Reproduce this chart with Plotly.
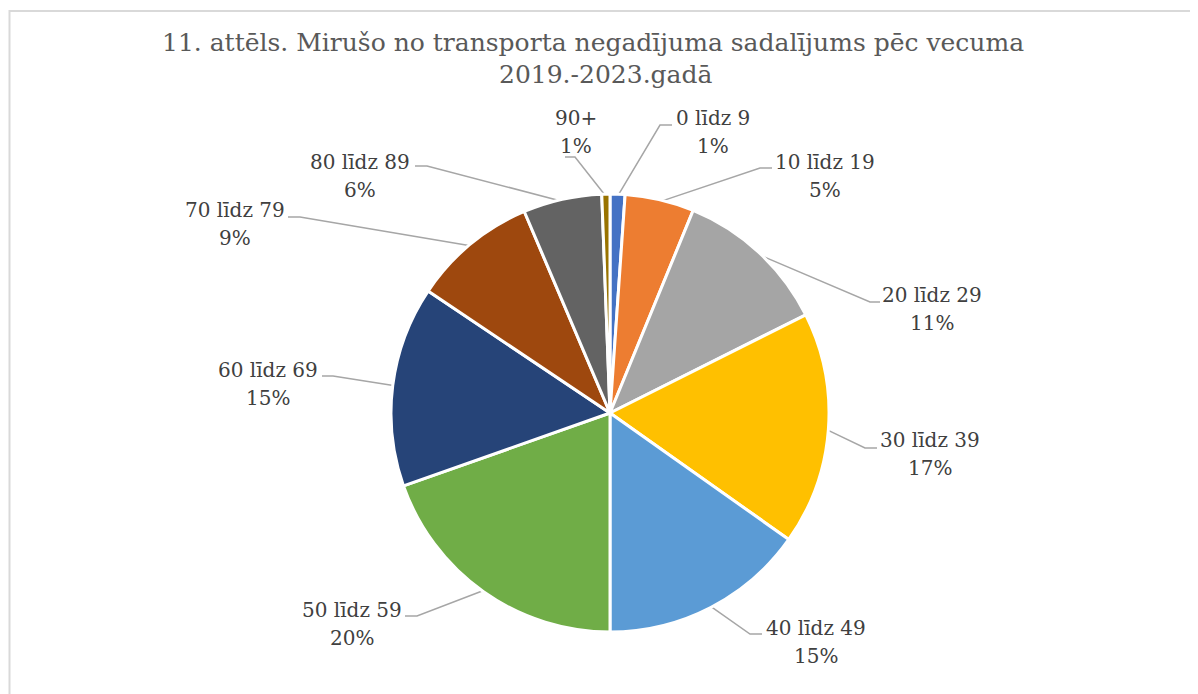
import math
import plotly.graph_objects as go

# ---- data ----
age_groups = ["0 līdz 9", "10 līdz 19", "20 līdz 29", "30 līdz 39", "40 līdz 49",
              "50 līdz 59", "60 līdz 69", "70 līdz 79", "80 līdz 89", "90+"]
shares = [1.1, 5.1, 11.4, 17.2, 15.2, 19.6, 14.8, 9.2, 5.8, 0.6]
colors = ["#4472C4", "#ED7D31", "#A5A5A5", "#FFC000", "#5B9BD5",
          "#70AD47", "#264478", "#9E480E", "#636363", "#997300"]
title_lines = ["11. attēls. Mirušo no transporta negadījuma sadalījums pēc vecuma",
               "2019.-2023.gadā"]

# ---- layout (page pixels) ----
W, H = 1198, 694
OFF = 8  # page body margin
CX, CY, R = 610, 413, 219
SERIF = "DejaVu Serif"
# label text centre (x, first line y)
label_pos = [(713, 118), (825, 162), (932, 295), (930, 440), (816, 628),
             (352, 610), (268, 370), (235, 210), (360, 162), (576, 118)]
# leader attach point near text and elbow point
leader_attach = [(672, 125), (772, 168), (880, 302), (877, 448), (762, 634),
                 (405, 616), (322, 376), (288, 217), (415, 166), (565, 157)]
leader_elbow = [(660, 125), (760, 168), (870, 302), (865, 448), (750, 634),
                (417, 616), (333, 376), (300, 217), (427, 166), (575, 157)]

total = sum(shares)
fig = go.Figure()

fig.add_trace(go.Pie(
    labels=age_groups, values=shares, sort=False, direction="clockwise",
    rotation=0, textinfo="none", hoverinfo="label+percent",
    marker=dict(colors=colors, line=dict(color="white", width=3)),
    domain=dict(x=[(CX - OFF - R) / W, (CX - OFF + R) / W],
                y=[(H - (CY - OFF) - R) / H, (H - (CY - OFF) + R) / H]),
    showlegend=False,
))

# leader lines: start at slice mid-angle on the pie edge (from data)
lx, ly = [], []
cum = 0.0
for i, v in enumerate(shares):
    mid = (cum + v / 2) / total * 2 * math.pi
    cum += v
    sx = CX + R * math.sin(mid) * 0.99
    sy = CY - R * math.cos(mid) * 0.99
    lx += [sx, leader_elbow[i][0], leader_attach[i][0], None]
    ly += [sy, leader_elbow[i][1], leader_attach[i][1], None]

fig.add_trace(go.Scatter(x=lx, y=ly, mode="lines", hoverinfo="skip",
                         line=dict(color="#A6A6A6", width=1.5), showlegend=False))

annotations = []
for i, name in enumerate(age_groups):
    pct = f"{round(shares[i] / total * 100)}%"
    x, y = label_pos[i]
    for j, t in enumerate([name, pct]):
        annotations.append(dict(
            x=x, y=y + j * 28, xref="x", yref="y", text=t, showarrow=False,
            xanchor="center", yanchor="middle",
            font=dict(family=SERIF, size=20, color="#404040")))

title_y = [42, 74]
title_x = [593, 605]
for j, t in enumerate(title_lines):
    annotations.append(dict(
        x=title_x[j], y=title_y[j], xref="x", yref="y", text=t, showarrow=False,
        xanchor="center", yanchor="middle",
        font=dict(family=SERIF, size=25, color="#595959")))

fig.update_layout(
    width=W, height=H, margin=dict(l=0, r=0, t=0, b=0),
    paper_bgcolor="white", plot_bgcolor="rgba(0,0,0,0)",
    xaxis=dict(range=[OFF, W + OFF], visible=False, domain=[0, 1], fixedrange=True),
    yaxis=dict(range=[H + OFF, OFF], visible=False, domain=[0, 1], fixedrange=True),
    annotations=annotations,
    shapes=[dict(type="rect", xref="paper", yref="paper",
                 x0=1.5 / W, y0=1 - (11 - OFF) / H, x1=1.05, y1=-0.05,
                 line=dict(color="#D9D9D9", width=2), layer="below")],
)

fig.write_html("out.html")
